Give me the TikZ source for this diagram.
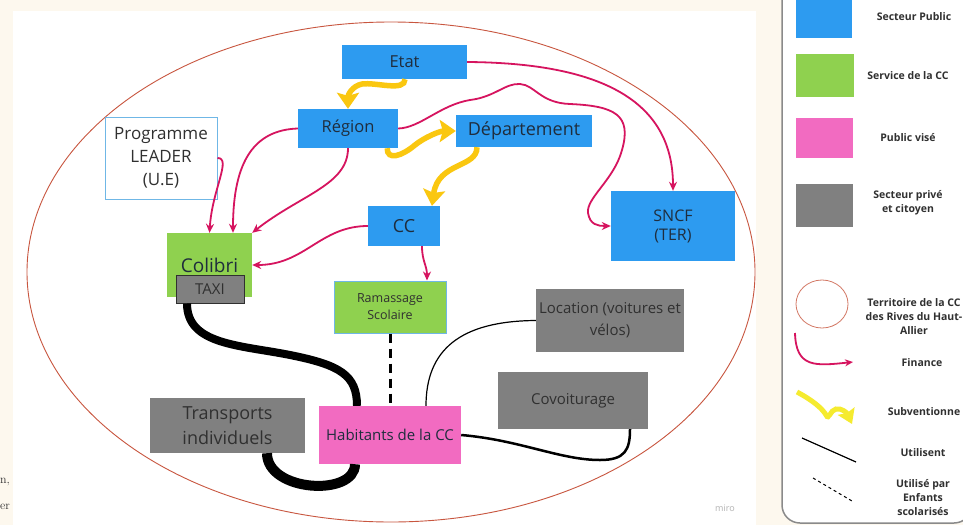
\documentclass[tikz,border=0pt]{standalone}
\usepackage{fontspec}
\usepackage{xcolor}
\usetikzlibrary{arrows.meta}

\newfontfamily\miro{Open Sans}

\definecolor{creme}{RGB}{253,248,238}
\definecolor{cpublic}{HTML}{2D9BF0}
\definecolor{cservice}{HTML}{8FD14F}
\definecolor{cvise}{HTML}{F26BC1}
\definecolor{cprive}{HTML}{808080}
\definecolor{cfinance}{HTML}{D6145F}
\definecolor{csubv}{HTML}{FAC710}
\definecolor{clegjaune}{HTML}{F5EB2F}
\definecolor{cterritoire}{HTML}{C8563F}
\definecolor{cleader}{HTML}{6FB7E6}
\definecolor{cbord}{HTML}{8A8A8A}
\definecolor{ink}{HTML}{1F2D3D}
\definecolor{ink2}{HTML}{303030}

\begin{document}
\begin{tikzpicture}[x=1pt,y=-1pt,>={Stealth[length=9pt,width=8pt]},
          blk/.style={inner sep=0pt,align=center,text=ink},
          pub/.style={blk,fill=cpublic},
          serv/.style={blk,fill=cservice},
          vise/.style={blk,fill=cvise},
          prive/.style={blk,fill=cprive,text=ink2},
          finance/.style={draw=cfinance,line width=1.8pt,->},
          subvention/.style={draw=csubv,line width=5.5pt,-{Stealth[length=16pt,width=22pt,inset=3pt]}},
          utilise/.style={draw=black},
          legende/.style={font={\miro\bfseries\fontsize{10.5}{14}\selectfont},align=center,text=ink2}]
          \useasboundingbox (0,0) rectangle (963,525);

          \fill[creme] (0,0) rectangle (963,525);
          \fill[white] (13,11) rectangle (756,525);
          \filldraw[fill=white,draw=cbord,line width=1.5pt,rounded corners=18pt] (782,-10) -- (782,523) -- (972,523) -- (972,-10);

          \draw[cterritoire,line width=0.9pt] (391,272) ellipse [x radius=364,y radius=250];

          \node[pub,minimum width=125pt,minimum height=34pt,font={\miro\fontsize{16.5}{20}\selectfont}] (etat) at (404.5,62) {Etat};
          \node[pub,minimum width=100pt,minimum height=39pt,font={\miro\fontsize{16.5}{20}\selectfont}] (region) at (348,128.5) {Région};
          \node[pub,minimum width=136pt,minimum height=32pt,font={\miro\fontsize{18}{20}\selectfont}] (departement) at (524,131) {Département};
          \node[pub,minimum width=72pt,minimum height=40pt,font={\miro\fontsize{18}{20}\selectfont}] (cc) at (404,226) {CC};
          \node[pub,minimum width=124pt,minimum height=70pt,font={\miro\fontsize{16}{19}\selectfont}] (sncf) at (673,226) {SNCF\\(TER)};
          \node[blk,fill=white,draw=cleader,line width=1pt,minimum width=112pt,minimum height=82pt,font={\miro\fontsize{17}{23}\selectfont},text=ink2] (leader) at (161,158) {Programme\\LEADER\\(U.E)};

          \node[serv,minimum width=85pt,minimum height=64pt,font={\miro\fontsize{19}{20}\selectfont}] (colibri) at (209.5,265) {Colibri};
          \node[prive,draw=ink2,line width=1pt,minimum width=68pt,minimum height=28pt,font={\miro\fontsize{15}{18}\selectfont}] (taxi) at (210,289) {TAXI};
          \node[serv,draw=cleader,line width=1pt,minimum width=112pt,minimum height=52pt,font={\miro\fontsize{12.5}{17}\selectfont},text=ink2] (ramassage) at (390,307) {Ramassage\\Scolaire};

          \node[prive,minimum width=155pt,minimum height=55pt,font={\miro\fontsize{18}{25}\selectfont}] (transports) at (227.5,425.5) {Transports\\individuels};
          \node[vise,minimum width=142pt,minimum height=58pt,font={\miro\fontsize{15}{18}\selectfont}] (habitants) at (390,435) {Habitants de la CC};
          \node[prive,minimum width=148pt,minimum height=63pt,font={\miro\fontsize{15}{22}\selectfont}] (location) at (610,320.5) {Location (voitures et\\vélos)};
          \node[prive,minimum width=150pt,minimum height=57pt,font={\miro\fontsize{15}{18}\selectfont}] (covoiturage) at (573,400.5) {Covoiturage};

          \draw[finance] (etat.east) .. controls (600,63) and (673,100) .. (sncf.north);
          \draw[finance] (region.east) .. controls (420,128) and (440,105) .. (470,100)
                    .. controls (495,97) and (505,83) .. (520,84)
                    .. controls (535,85) and (540,103) .. (570,104)
                    .. controls (615,106) and (632,115) .. (622,150)
                    .. controls (614,180) and (586,198) .. (588,213)
                    .. controls (590,225) and (598,226) .. (sncf.west);
          \draw[finance] (region.west) .. controls (255,130) and (233,160) .. ([xshift=23.5pt]colibri.north);
          \draw[finance] (region.south) .. controls (348,185) and (300,195) .. (colibri.north east);
          \draw[finance] (leader.east) .. controls (232,158) and (212,190) .. (colibri.north);
          \draw[finance] (cc.west) .. controls (320,226) and (305,265) .. (colibri.east);
          \draw[finance] ([xshift=18pt]cc.south) .. controls +(0,15) and +(0,-15) .. ([xshift=37pt]ramassage.north);

          \draw[subvention] ([xshift=0.5pt]etat.south) .. controls (405,92) and (376,82) .. (362,84)
                    .. controls (352,86) and (348,95) .. (region.north);
          \draw[subvention] ([xshift=-11pt]region.south east) .. controls (387,161) and (402,156) .. (415,145)
                    .. controls (425,137) and (440,131) .. (departement.west);
          \draw[subvention] ([xshift=-47pt]departement.south) .. controls (477,168) and (438,162) .. ([xshift=28pt]cc.north);

          \draw[utilise,line width=8pt] ([xshift=-23pt]taxi.south) .. controls (187,345) and (240,345) .. (290,355)
                    .. controls (340,365) and (357,375) .. ([xshift=-33pt]habitants.north);
          \draw[utilise,line width=10pt] ([xshift=39.5pt]transports.south) .. controls (267,492) and (355,497) .. ([xshift=-35pt]habitants.south);
          \draw[utilise,line width=2.5pt] (habitants.east) .. controls (520,440) and (560,460) .. (600,460)
                    .. controls (625,460) and (630,450) .. ([xshift=57pt]covoiturage.south);
          \draw[utilise,line width=1.2pt] ([xshift=36pt]habitants.north) .. controls (426,350) and (460,321) .. (location.west);
          \draw[utilise,line width=3pt,dash pattern=on 9pt off 6pt] (ramassage.south) -- (habitants.north);

          \fill[cpublic] (796,-2) rectangle (852,38);
          \fill[cservice] (796,54) rectangle (854,97);
          \fill[cvise] (796,118) rectangle (853,158);
          \fill[cprive] (796,184) rectangle (853,227);
          \draw[cterritoire!80,line width=0.8pt] (822,304) ellipse [x radius=26,y radius=24];
          \draw[finance,-{Stealth[length=8pt,width=7pt]}] (795,333) .. controls (796,368) and (815,366) .. (853,362);
          \draw[draw=clegjaune,line width=5pt,-{Stealth[length=14pt,width=18pt,inset=2pt]}] (797,392) .. controls (812,400) and (822,408) .. (826,415)
                    .. controls (829,421) and (830,410) .. (836,409)
                    .. controls (842,408) and (847,413) .. (852,424);
          \draw[utilise,line width=1.2pt] (802,438) -- (856,462);
          \draw[utilise,line width=1pt,dash pattern=on 3pt off 3pt] (813,478) -- (852,501);

          \node[legende] (lpublic) at (914,17) {Secteur Public};
          \node[legende] (lservice) at (908,76) {Service de la CC};
          \node[legende] (lvise) at (908,138) {Public visé};
          \node[legende] (lprive) at (908,203) {Secteur privé\\et citoyen};
          \node[legende] (lterritoire) at (914,317) {Territoire de la CC\\des Rives du Haut-\\Allier};
          \node[legende] (lfinance) at (922,363) {Finance};
          \node[legende] (lsubv) at (924,412) {Subventionne};
          \node[legende] (lutilise) at (923,453) {Utilisent};
          \node[legende] (lenfants) at (923,498) {Utilisé par\\Enfants\\scolarisés};

          \node[font={\miro\fontsize{9}{9}\selectfont},text=black!30] (miro) at (725,508) {miro};
          \node[anchor=west,inner sep=0pt,text=ink2,font={\fontsize{12}{12}\selectfont}] (bordn) at (0,482) {n,};
          \node[anchor=west,inner sep=0pt,text=ink2,font={\fontsize{12}{12}\selectfont}] (borde) at (0,507) {er};
        \end{tikzpicture}
\end{document}
